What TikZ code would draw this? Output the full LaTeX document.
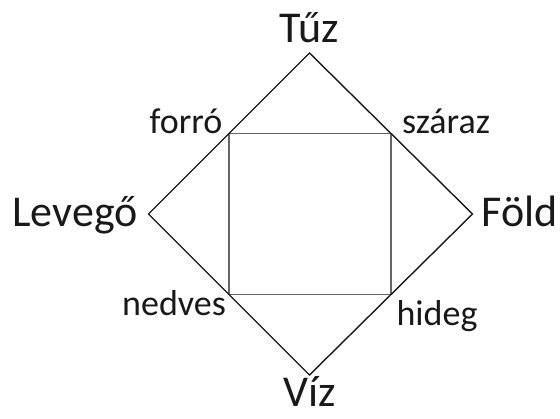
\documentclass[tikz,border=0pt]{standalone}
\usepackage{fontspec}
\setmainfont{Carlito}
\usetikzlibrary{calc}
\begin{document}
\begin{tikzpicture}[x=1pt,y=-1pt,
  big/.style={inner sep=0pt,anchor=base,font=\fontsize{44}{50}\selectfont,text=black!90},
  small/.style={inner sep=0pt,anchor=base,font=\fontsize{36}{42}\selectfont,text=black!90},
  edge/.style={draw=black!90,line width=1.4pt,line join=miter},
  inner/.style={draw=black!60,line width=1.6pt}]
\useasboundingbox (0,0) rectangle (560,418);
% diamond vertices
\coordinate (T) at (309.5,53);
\coordinate (R) at (472.5,214);
\coordinate (B) at (309.5,375);
\coordinate (L) at (148.5,214);
% square corners (midpoints of diamond edges)
\coordinate (q1) at ($(T)!0.5!(L)$);
\coordinate (q2) at ($(T)!0.5!(R)$);
\coordinate (q3) at ($(B)!0.5!(R)$);
\coordinate (q4) at ($(B)!0.5!(L)$);
\draw[inner] (q1) -- (q2) -- (q3) -- (q4) -- cycle;
\draw[edge] (T) -- (R) -- (B) -- (L) -- cycle;
% labels
\node[big] (tuz) at (309,42) {Tűz};
\node[big] (levego) at (75,226) {Levegő};
\node[big] (fold) at (520,226) {Föld};
\node[big] (viz) at (310,406) {Víz};
\node[small] (forro) at (186,133) {forró};
\node[small] (szaraz) at (446,133) {száraz};
\node[small] (nedves) at (174,315) {nedves};
\node[small] (hideg) at (437,325) {hideg};
\end{tikzpicture}
\end{document}
